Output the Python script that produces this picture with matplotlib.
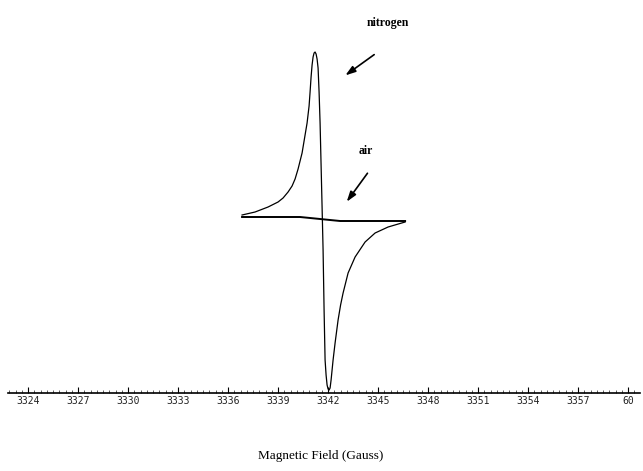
import numpy as np
import matplotlib.pyplot as plt
from matplotlib.ticker import MultipleLocator

# Espectro EPR
campo_n2 = [3336.84, 3337.62, 3338.40, 3339.00, 3339.30, 3339.60, 3339.84, 3340.02,
            3340.20, 3340.44, 3340.62, 3340.74, 3340.86, 3340.92, 3340.98, 3341.04,
            3341.10, 3341.16, 3341.22, 3341.28, 3341.34, 3341.40, 3341.46, 3341.52,
            3341.58, 3341.64, 3341.70, 3341.76, 3341.82, 3341.88, 3341.94, 3342.00,
            3342.06, 3342.12, 3342.18, 3342.30, 3342.42, 3342.60, 3342.75, 3342.90,
            3343.20, 3343.62, 3344.22, 3344.82, 3345.60, 3346.62]
senal_n2 = [1, 4, 9, 14, 18, 24, 30, 37,
            47, 63, 81, 93, 110, 124, 139, 151,
            159, 163, 164, 162, 157, 148, 124, 93,
            51, 9, -34, -94, -144, -159, -169, -173,
            -174, -172, -164, -144, -127, -104, -89, -77,
            -57, -41, -26, -17, -11, -6]

campo_aire = [3336.84, 3338.52, 3340.32, 3340.92, 3341.52, 3342.12, 3342.72, 3343.92, 3346.62]
senal_aire = [-1, -1, -1, -2, -3, -4, -5, -5, -5]

ticks = [3324, 3327, 3330, 3333, 3336, 3339, 3342, 3345, 3348, 3351, 3354, 3357, 3360]
tick_labels = ['3324', '3327', '3330', '3333', '3336', '3339', '3342', '3345',
               '3348', '3351', '3354', '3357', '60']

fig = plt.figure(figsize=(6.43, 4.71), dpi=100)
ax = fig.add_axes([8 / 643, 78 / 471, 632 / 643, 393 / 471])

ax.plot(campo_n2, senal_n2, color='black', lw=0.9)
ax.plot(campo_aire, senal_aire, color='black', lw=1.4)

ax.set_xlim(3322.8, 3360.71)
ax.set_ylim(-177, 216)

# Solo queda el eje inferior
for lado in ['top', 'left', 'right']:
    ax.spines[lado].set_visible(False)
ax.spines['bottom'].set_linewidth(1.2)
ax.set_yticks([])
ax.set_xticks(ticks)
ax.set_xticklabels(tick_labels, family='DejaVu Sans Mono', fontsize=7, color='#222222')
ax.xaxis.set_minor_locator(MultipleLocator(0.375))
ax.tick_params(axis='x', which='major', direction='in', length=4, width=0.8, pad=2)
ax.tick_params(axis='x', which='minor', direction='in', length=2.5, width=0.6, color='#444444')

# Etiquetas y flechas
ax.text(3345.6, 193, 'nitrogen', family='Liberation Serif', fontsize=8.5,
        fontweight='bold', ha='center', va='center')
ax.annotate('', xy=(3342.9, 139), xytext=(3344.9, 163),
            arrowprops=dict(arrowstyle='-|>,head_length=0.6,head_width=0.2',
                            color='black', lw=1.2))
ax.text(3344.28, 65, 'air', family='Liberation Serif', fontsize=8.5,
        fontweight='bold', ha='center', va='center')
ax.annotate('', xy=(3343.02, 12), xytext=(3344.46, 45),
            arrowprops=dict(arrowstyle='-|>,head_length=0.6,head_width=0.2',
                            color='black', lw=1.2))

fig.text(321 / 643, 1 - 456 / 471, 'Magnetic Field (Gauss)', family='Liberation Serif',
         fontsize=9.5, ha='center', va='center')

plt.savefig('out.png', dpi=100)
